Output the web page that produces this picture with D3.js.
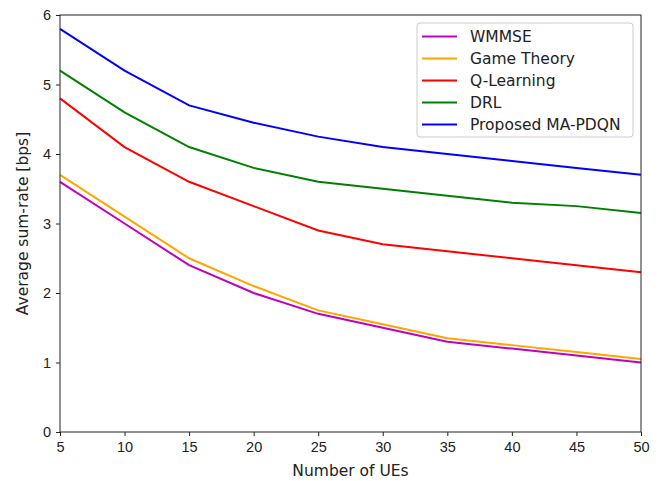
<!DOCTYPE html>
<html>
<head>
<meta charset="utf-8">
<script src="https://cdn.jsdelivr.net/npm/d3@7"></script>
<style>
  body { margin: 0; background: #fff; }
  svg { font-family: 'DejaVu Sans', sans-serif; }
  .axis text { font-size: 14.5px; fill: #222; }
  .axis path, .axis line { stroke: #222; }
</style>
</head>
<body>
<div id="chart"></div>
<script>
const UES = [5, 10, 15, 20, 25, 30, 35, 40, 45, 50]
const WMMSE = [3.6, 3.0, 2.4, 2.0, 1.7, 1.5, 1.3, 1.2, 1.1, 1.0]
const GAME_THEORY = [3.7, 3.1, 2.5, 2.1, 1.75, 1.55, 1.35, 1.25, 1.15, 1.05]
const Q_LEARNING = [4.8, 4.1, 3.6, 3.25, 2.9, 2.7, 2.6, 2.5, 2.4, 2.3]
const DRL = [5.2, 4.6, 4.1, 3.8, 3.6, 3.5, 3.4, 3.3, 3.25, 3.15]
const MA_PDQN = [5.8, 5.2, 4.7, 4.45, 4.25, 4.1, 4.0, 3.9, 3.8, 3.7]

const X_TICKS = [5, 10, 15, 20, 25, 30, 35, 40, 45, 50]
const Y_TICKS = [0, 1, 2, 3, 4, 5, 6]

const series = [
  { name: 'WMMSE', values: WMMSE, color: '#bf00bf' },
  { name: 'Game Theory', values: GAME_THEORY, color: '#ffa500' },
  { name: 'Q-Learning', values: Q_LEARNING, color: '#ff0000' },
  { name: 'DRL', values: DRL, color: '#008000' },
  { name: 'Proposed MA-PDQN', values: MA_PDQN, color: '#0000ff' }
]

const width = 665, height = 481
const margin = { top: 15, right: 24, bottom: 49, left: 60 }

let svg = d3.select('#chart').append('svg')
  .attr('width', width)
  .attr('height', height)

let x = d3.scaleLinear().domain([5, 50]).range([margin.left, width - margin.right])
let y = d3.scaleLinear().domain([0, 6]).range([height - margin.bottom, margin.top])

// lines
let line = d3.line()
  .x((d, i) => x(UES[i]))
  .y((d) => y(d))

svg.append('g')
  .selectAll('path')
  .data(series)
  .enter().append('path')
    .attr('d', (d) => line(d.values))
    .attr('fill', 'none')
    .attr('stroke', (d) => d.color)
    .attr('stroke-width', 2)

// frame
svg.append('rect')
  .attr('x', x.range()[0])
  .attr('y', y.range()[1])
  .attr('width', x.range()[1] - x.range()[0])
  .attr('height', y.range()[0] - y.range()[1])
  .attr('fill', 'none')
  .attr('stroke', '#222')
  .attr('stroke-width', 1)

// axes
svg.append('g')
  .attr('class', 'axis')
  .attr('transform', 'translate(0,' + y.range()[0] + ')')
  .call(d3.axisBottom(x).tickValues(X_TICKS).tickSize(4).tickPadding(6).tickFormat(d3.format('d')))
  .call((g) => g.select('.domain').remove())

svg.append('g')
  .attr('class', 'axis')
  .attr('transform', 'translate(' + x.range()[0] + ',0)')
  .call(d3.axisLeft(y).tickValues(Y_TICKS).tickSize(4).tickPadding(5).tickFormat(d3.format('d')))
  .call((g) => g.select('.domain').remove())

svg.append('text')
  .attr('x', (x.range()[0] + x.range()[1]) / 2)
  .attr('y', 476)
  .attr('text-anchor', 'middle')
  .attr('font-size', 15.5)
  .attr('fill', '#222')
  .text('Number of UEs')

svg.append('text')
  .attr('transform', 'translate(28,' + ((y.range()[0] + y.range()[1]) / 2) + ') rotate(-90)')
  .attr('text-anchor', 'middle')
  .attr('font-size', 15.5)
  .attr('fill', '#222')
  .text('Average sum-rate [bps]')

// legend
let legend = svg.append('g')
  .attr('transform', 'translate(417,23)')

legend.append('rect')
  .attr('width', 216)
  .attr('height', 114)
  .attr('rx', 3)
  .attr('fill', '#fff')
  .attr('fill-opacity', 0.8)
  .attr('stroke', '#ccc')

let item = legend.selectAll('.item')
  .data(series)
  .enter().append('g')
    .attr('class', 'item')
    .attr('transform', (d, i) => 'translate(0,' + (13.5 + i * 22) + ')')

item.append('line')
  .attr('x1', 5)
  .attr('x2', 40)
  .attr('stroke', (d) => d.color)
  .attr('stroke-width', 2)

item.append('text')
  .attr('x', 53)
  .attr('dy', '0.35em')
  .attr('font-size', 15.5)
  .attr('fill', '#222')
  .text((d) => d.name)
</script>
</body>
</html>
